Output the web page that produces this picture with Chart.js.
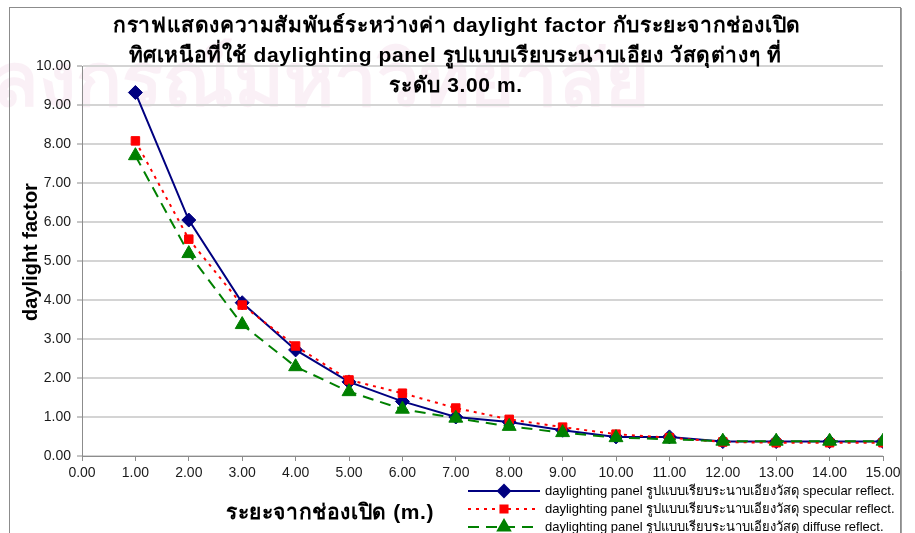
<!DOCTYPE html>
<html>
<head>
<meta charset="utf-8">
<script src="https://cdn.jsdelivr.net/npm/chart.js@4/dist/chart.umd.min.js"></script>
<style>
  html, body { margin: 0; padding: 0; background: #fff; }
  #wrap { position: relative; width: 915px; height: 533px; }
</style>
</head>
<body>
<div id="wrap"><canvas id="dfChart" width="915" height="533"></canvas></div>
<script>
(function () {
    'use strict';

    /* ===== Data ===== */
    var distances = [1, 2, 3, 4, 5, 6, 7, 8, 9, 10, 11, 12, 13, 14, 15];
    var specularA = [9.32, 6.05, 3.93, 2.72, 1.90, 1.40, 1.00, 0.87, 0.66, 0.49, 0.49, 0.37, 0.37, 0.37, 0.37];
    var specularB = [8.08, 5.56, 3.87, 2.82, 1.95, 1.61, 1.23, 0.94, 0.74, 0.56, 0.47, 0.36, 0.34, 0.34, 0.34];
    var diffuse   = [7.70, 5.19, 3.37, 2.29, 1.65, 1.20, 0.97, 0.76, 0.60, 0.47, 0.43, 0.38, 0.38, 0.38, 0.38];

    var seriesLabels = [
        'daylighting panel รูปแบบเรียบระนาบเอียงวัสดุ specular reflect.',
        'daylighting panel รูปแบบเรียบระนาบเอียงวัสดุ specular reflect.',
        'daylighting panel รูปแบบเรียบระนาบเอียงวัสดุ diffuse reflect.'
    ];
    var titleLines = [
        'กราฟแสดงความสัมพันธ์ระหว่างค่า daylight factor กับระยะจากช่องเปิด',
        'ทิศเหนือที่ใช้ daylighting panel รูปแบบเรียบระนาบเอียง วัสดุต่างๆ ที่',
        'ระดับ 3.00 m.'
    ];
    var xTitle = 'ระยะจากช่องเปิด (m.)';
    var yTitle = 'daylight factor';
    var watermark = 'ลงกรณ์มหาวิทยาลัย';

    /* ===== Styles ===== */
    var COLORS = {
        navy:  '#000080',
        red:   '#FF0000',
        green: '#008000',
        grid:  '#D4D4D4',
        axis:  '#8C8C8C',
        text:  '#1A1A1A',
        frame: '#8C8C8C',
        mark:  'rgba(236, 200, 222, 0.28)'
    };
    var FAMILY = "Tahoma, 'Liberation Sans', Arial, sans-serif";
    var TICK_FONT = { family: "'Liberation Sans', Arial, sans-serif", size: 14 };

    function pts(ys) {
        return ys.map(function (y, i) { return { x: distances[i], y: y }; });
    }

    function legendSample(ctx, x0, x1, y, ds) {
        ctx.save();
        ctx.strokeStyle = ds.borderColor;
        ctx.lineWidth = 2;
        ctx.setLineDash(ds.borderDash || []);
        ctx.beginPath();
        ctx.moveTo(x0, y);
        ctx.lineTo(x1, y);
        ctx.stroke();
        ctx.setLineDash([]);
        Chart.helpers.drawPoint(ctx, {
            pointStyle: ds.pointStyle,
            radius: ds.pointRadius - 1,
            borderWidth: 1
        }, (x0 + x1) / 2, y);
        ctx.fillStyle = ds.pointBackgroundColor;
        ctx.fill();
        ctx.restore();
    }

    /* ===== Frame, watermark, titles and legend ===== */
    var decorPlugin = {
        id: 'decor',
        beforeDraw: function (chart) {
            var ctx = chart.ctx;
            ctx.save();
            ctx.fillStyle = '#fff';
            ctx.fillRect(0, 0, chart.width, chart.height);
            // faint background stamp
            ctx.fillStyle = COLORS.mark;
            ctx.font = 'bold 76px ' + FAMILY;
            ctx.textBaseline = 'alphabetic';
            ctx.textAlign = 'left';
            ctx.fillText(watermark, -8, 106);
            // outer frame
            ctx.strokeStyle = COLORS.frame;
            ctx.lineWidth = 1;
            ctx.strokeRect(9.5, 7.5, 891, 540);
            ctx.strokeStyle = '#A0A0A0';
            ctx.beginPath();
            ctx.moveTo(901.5, 8);
            ctx.lineTo(901.5, 533);
            ctx.stroke();
            ctx.restore();
        },
        afterDraw: function (chart) {
            var ctx = chart.ctx;
            var area = chart.chartArea;
            ctx.save();
            ctx.fillStyle = '#000';
            ctx.textAlign = 'center';
            ctx.textBaseline = 'middle';
            ctx.font = 'bold 21px ' + FAMILY;
            if ('letterSpacing' in ctx) ctx.letterSpacing = '0.6px';
            ctx.fillText(titleLines[0], 457, 26);
            ctx.fillText(titleLines[1], 455, 56);
            ctx.fillText(titleLines[2], 456, 86);

            ctx.font = 'bold 21px ' + FAMILY;
            ctx.fillText(xTitle, 330, 513);
            if ('letterSpacing' in ctx) ctx.letterSpacing = '0px';

            ctx.save();
            ctx.translate(31, 252);
            ctx.rotate(-Math.PI / 2);
            ctx.font = 'bold 20px ' + FAMILY;
            ctx.fillText(yTitle, 0, 0);
            ctx.restore();

            // legend rows
            var rows = [491, 509, 527];
            ctx.font = '13px ' + FAMILY;
            ctx.textAlign = 'left';
            chart.data.datasets.forEach(function (ds, i) {
                legendSample(ctx, 468, 540, rows[i], ds);
                ctx.fillStyle = '#000';
                ctx.fillText(ds.label, 545, rows[i]);
            });
            ctx.restore();
        }
    };

    var ctx = document.getElementById('dfChart');
    new Chart(ctx, {
        type: 'scatter',
        data: {
            datasets: [{
                label: seriesLabels[0],
                data: pts(specularA),
                showLine: true,
                borderColor: COLORS.navy,
                backgroundColor: COLORS.navy,
                borderWidth: 2,
                pointStyle: 'rectRot',
                pointRadius: 7,
                pointBackgroundColor: COLORS.navy,
                pointBorderColor: COLORS.navy,
                pointBorderWidth: 1,
                order: 3
            }, {
                label: seriesLabels[1],
                data: pts(specularB),
                showLine: true,
                borderColor: COLORS.red,
                backgroundColor: COLORS.red,
                borderWidth: 2,
                borderDash: [3, 5],
                pointStyle: 'rect',
                pointRadius: 6,
                pointBackgroundColor: COLORS.red,
                pointBorderColor: COLORS.red,
                pointBorderWidth: 1,
                order: 2
            }, {
                label: seriesLabels[2],
                data: pts(diffuse),
                showLine: true,
                borderColor: COLORS.green,
                backgroundColor: COLORS.green,
                borderWidth: 2,
                borderDash: [11, 7],
                pointStyle: 'triangle',
                pointRadius: 8,
                pointBackgroundColor: COLORS.green,
                pointBorderColor: COLORS.green,
                pointBorderWidth: 1,
                order: 1
            }]
        },
        options: {
            responsive: false,
            animation: false,
            layout: { padding: { left: 0, right: 32, top: 66, bottom: 0 } },
            plugins: {
                legend: { display: false },
                title: { display: false },
                tooltip: { enabled: false }
            },
            scales: {
                x: {
                    type: 'linear',
                    min: 0,
                    max: 15,
                    afterFit: function (scale) { scale.height = 77; },
                    ticks: {
                        stepSize: 1,
                        font: TICK_FONT,
                        color: COLORS.text,
                        padding: 4,
                        maxRotation: 0,
                        callback: function (v) { return v.toFixed(2); }
                    },
                    grid: { drawOnChartArea: false, drawTicks: true, tickLength: 5, color: COLORS.axis, tickColor: COLORS.axis },
                    border: { color: COLORS.axis, width: 1 }
                },
                y: {
                    min: 0,
                    max: 10,
                    afterFit: function (scale) { scale.width = 82; },
                    ticks: {
                        stepSize: 1,
                        font: TICK_FONT,
                        color: COLORS.text,
                        padding: 6,
                        callback: function (v) { return v.toFixed(2); }
                    },
                    grid: { color: COLORS.grid, lineWidth: 2, tickLength: 5, tickColor: COLORS.axis, tickWidth: 1 },
                    border: { color: COLORS.axis, width: 1 }
                }
            }
        },
        plugins: [decorPlugin]
    });
})();
</script>
</body>
</html>
